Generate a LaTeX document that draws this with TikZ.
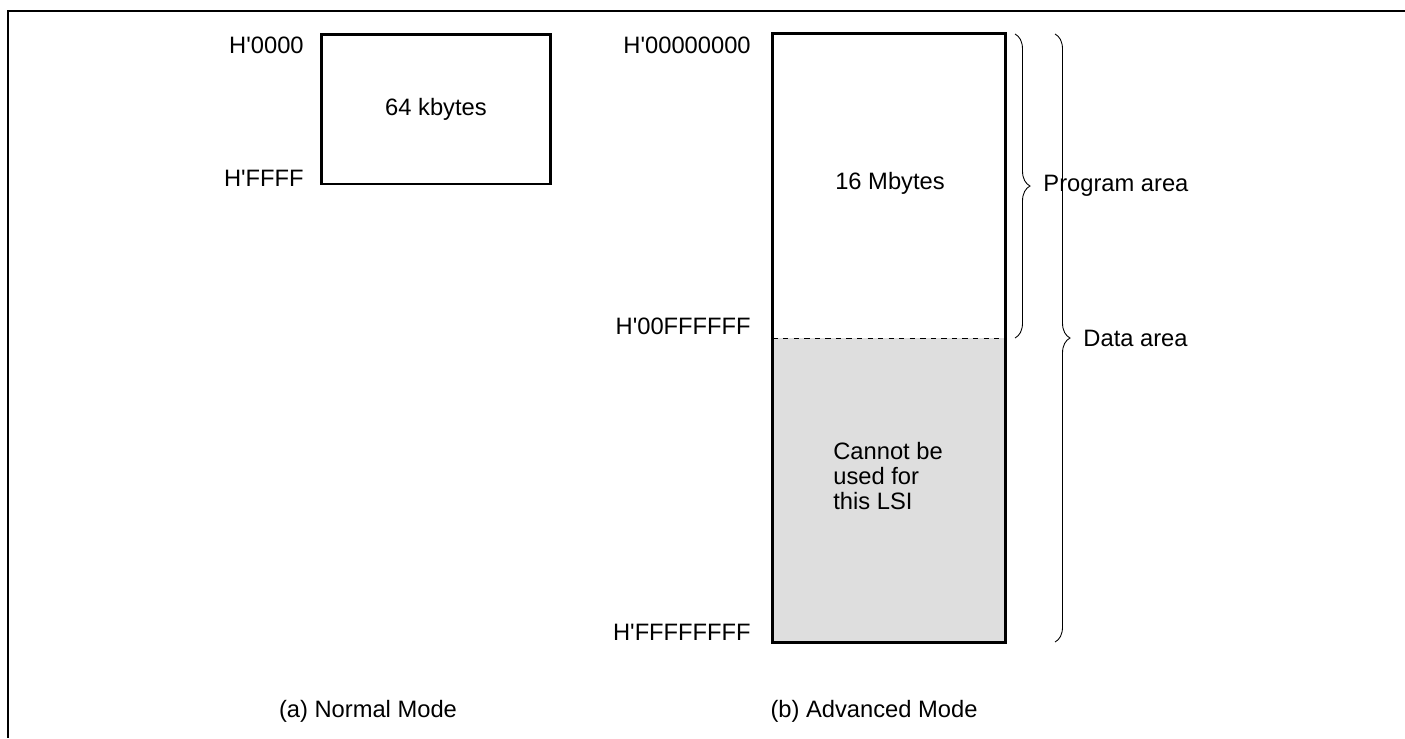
\documentclass[tikz,border=0pt]{standalone}
\usepackage{fontspec}
\setmainfont{Liberation Sans}
\usetikzlibrary{decorations.pathreplacing}

\tikzset{
  addr/.style={anchor=east,inner sep=0pt},
  memtext/.style={inner sep=0pt},
  area/.style={decorate,decoration={brace,amplitude=.3cm},line width=.5pt},
}
\newcommand{\hq}{H\textquotesingle}

\begin{document}
\begin{tikzpicture}[x=.02cm,y=-.02cm,font=\fontsize{13.5}{14.5}\selectfont]
\useasboundingbox (0,0) rectangle (1405,738);
\draw[line width=1.7pt] (1405,11) -- (8,11) -- (8,738);

% (a) normal mode
\node (nbox) [draw,line width=1.7pt,minimum width=4.6cm,minimum height=3cm] at (436,109) {64 kbytes};
\node (n0) [addr] at (304,45) {\hq0000};
\node (n1) [addr] at (304,178) {\hq FFFF};
\node (ncap) at (368,711) {(a) Normal Mode};

% (b) advanced mode
\node (prog) [minimum width=4.64cm,minimum height=6.08cm,inner sep=0pt] at (889,186) {};
\node (rsv) [fill=black!13,minimum width=4.64cm,minimum height=6.08cm,inner sep=0pt] at (889,490) {};
\node at (890,183) {16 Mbytes};
\node (lsi) [memtext,anchor=west,align=left] at (833,476) {Cannot be\\used for\\this LSI};
\draw[dashed,line width=.6pt] (prog.south west) -- (prog.south east);
\draw[line width=1.7pt] (prog.north west) rectangle (rsv.south east);
\node (a0) [addr] at (751,45) {\hq00000000};
\node (a1) [addr] at (751,326) {\hq00FFFFFF};
\node (a2) [addr] at (751,632) {\hq FFFFFFFF};
\node (acap) at (874,711) {(b) Advanced Mode};

% areas
\draw[area] (1015,34) -- (1015,338) node (pa) [midway,right=.56cm,inner sep=0pt] {Program area};
\draw[area] (1055,34) -- (1055,642) node (da) [midway,right=.56cm,inner sep=0pt] {Data area};
\end{tikzpicture}
\end{document}
